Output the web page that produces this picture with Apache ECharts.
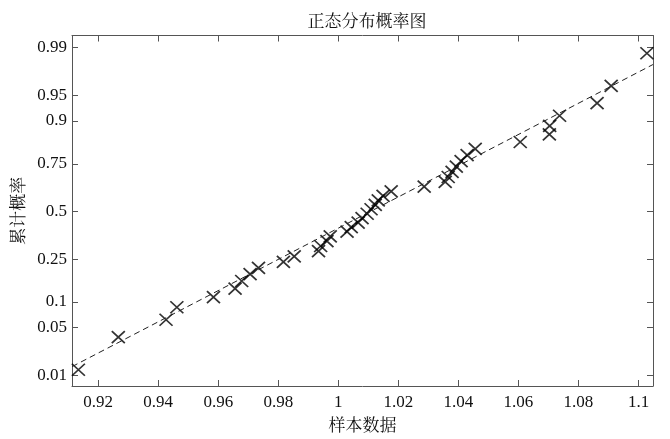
<!DOCTYPE html>
<html>
<head>
<meta charset="utf-8">
<script src="https://cdn.jsdelivr.net/npm/echarts@6/dist/echarts.min.js"></script>
<style>html,body{margin:0;padding:0;background:#fff}#c{width:670px;height:439px}</style>
</head>
<body>
<div id="c"></div>
<script>
const titleText = '正态分布概率图';
const xName = '样本数据';
const yName = '累计概率';
const xTicks = [0.92, 0.94, 0.96, 0.98, 1.00, 1.02, 1.04, 1.06, 1.08, 1.10];
const probTicks = [0.01, 0.05, 0.1, 0.25, 0.5, 0.75, 0.9, 0.95, 0.99];
const sampleX = [0.9134, 0.9267, 0.9426, 0.9462, 0.9584, 0.9656, 0.9678, 0.9706, 0.9734, 0.9817,
                 0.9853, 0.9934, 0.9941, 0.9962, 0.9973, 1.0029, 1.0043, 1.0066, 1.0079, 1.0096,
                 1.0109, 1.0123, 1.0133, 1.0149, 1.0176, 1.0286, 1.0356, 1.0366, 1.0379, 1.0393,
                 1.0409, 1.0429, 1.0456, 1.0606, 1.0703, 1.0704, 1.0737, 1.0862, 1.0909, 1.1028];
const sampleP = [0.0125, 0.0375, 0.0625, 0.0875, 0.1125, 0.1375, 0.1625, 0.1875, 0.2125, 0.2375,
                 0.2625, 0.2875, 0.3125, 0.3375, 0.3625, 0.3875, 0.4125, 0.4375, 0.4625, 0.4875,
                 0.5125, 0.5375, 0.5625, 0.5875, 0.6125, 0.6375, 0.6625, 0.6875, 0.7125, 0.7375,
                 0.7625, 0.7875, 0.8125, 0.8375, 0.8625, 0.8875, 0.9125, 0.9375, 0.9625, 0.9875];
const refLineX = [0.9113, 1.1048];
const refLineP = [0.0140, 0.9813];

// inverse standard normal CDF (probability-axis scale transform)
function probit(p) {
  const a = [-3.969683028665376e+01, 2.209460984245205e+02, -2.759285104469687e+02, 1.383577518672690e+02, -3.066479806614716e+01, 2.506628277459239e+00];
  const b = [-5.447609879822406e+01, 1.615858368580409e+02, -1.556989798598866e+02, 6.680131188771972e+01, -1.328068155288572e+01];
  const c = [-7.784894002430293e-03, -3.223964580411365e-01, -2.400758277161838e+00, -2.549732539343734e+00, 4.374664141464968e+00, 2.938163982698783e+00];
  const d = [7.784695709041462e-03, 3.224671290700398e-01, 2.445134137142996e+00, 3.754408661907416e+00];
  const pl = 0.02425, ph = 1 - pl;
  let q, r;
  if (p < pl) {
    q = Math.sqrt(-2 * Math.log(p));
    return (((((c[0]*q+c[1])*q+c[2])*q+c[3])*q+c[4])*q+c[5]) / ((((d[0]*q+d[1])*q+d[2])*q+d[3])*q+1);
  } else if (p <= ph) {
    q = p - 0.5; r = q * q;
    return (((((a[0]*r+a[1])*r+a[2])*r+a[3])*r+a[4])*r+a[5])*q / (((((b[0]*r+b[1])*r+b[2])*r+b[3])*r+b[4])*r+1);
  } else {
    q = Math.sqrt(-2 * Math.log(1 - p));
    return -(((((c[0]*q+c[1])*q+c[2])*q+c[3])*q+c[4])*q+c[5]) / ((((d[0]*q+d[1])*q+d[2])*q+d[3])*q+1);
  }
}

const zTicks = probTicks.map(probit);
function zToLabel(v) {
  let best = 0;
  for (let i = 1; i < zTicks.length; i++) if (Math.abs(zTicks[i] - v) < Math.abs(zTicks[best] - v)) best = i;
  return String(probTicks[best]);
}
const fmtX = v => String(+(+v).toFixed(2));

const serif = '"Liberation Serif", "Times New Roman", serif';
const cjk = '"Noto Serif CJK SC", "Noto Sans CJK SC", sans-serif';
const axisColor = '#555';
const xMin = 0.91127, xMax = 1.10483, yMin = -2.472, yMax = 2.493;

const lineCommon = { show: true, onZero: false, lineStyle: { color: axisColor, width: 1 } };

const chart = echarts.init(document.getElementById('c'), null, { renderer: 'canvas' });
chart.setOption({
  animation: false,
  backgroundColor: '#fff',
  title: {
    text: titleText, left: 362, top: 7, textAlign: 'center',
    textStyle: { fontFamily: cjk, fontSize: 17, fontWeight: 'normal', color: '#111' }
  },
  grid: { left: 72, right: 17, top: 35.5, bottom: 53, containLabel: false },
  xAxis: [
    {
      type: 'value', position: 'bottom', min: xMin, max: xMax,
      axisLine: lineCommon, splitLine: { show: false },
      name: xName, nameLocation: 'middle', nameGap: 27,
      nameTextStyle: { fontFamily: cjk, fontSize: 17, color: '#111' },
      axisTick: { show: true, inside: true, length: 6, customValues: xTicks, lineStyle: { color: axisColor } },
      axisLabel: { show: true, customValues: xTicks, formatter: fmtX, margin: 8,
                   fontFamily: serif, fontSize: 17, color: '#111' }
    },
    {
      type: 'value', position: 'top', min: xMin, max: xMax,
      axisLine: lineCommon, splitLine: { show: false },
      axisTick: { show: true, inside: true, length: 6, customValues: xTicks, lineStyle: { color: axisColor } },
      axisLabel: { show: false }
    }
  ],
  yAxis: [
    {
      type: 'value', position: 'left', min: yMin, max: yMax,
      axisLine: lineCommon, splitLine: { show: false },
      name: yName, nameLocation: 'middle', nameGap: 40,
      nameTextStyle: { fontFamily: cjk, fontSize: 17, color: '#111' },
      axisTick: { show: true, inside: true, length: 6, customValues: zTicks, lineStyle: { color: axisColor } },
      axisLabel: { show: true, customValues: zTicks, formatter: zToLabel, margin: 5,
                   fontFamily: serif, fontSize: 17, color: '#111' }
    },
    {
      type: 'value', position: 'right', min: yMin, max: yMax,
      axisLine: lineCommon, splitLine: { show: false },
      axisTick: { show: true, inside: true, length: 6, customValues: zTicks, lineStyle: { color: axisColor } },
      axisLabel: { show: false }
    }
  ],
  series: [
    {
      type: 'line', xAxisIndex: 0, yAxisIndex: 0,
      data: refLineX.map((x, i) => [x, probit(refLineP[i])]),
      symbol: 'none', silent: true,
      lineStyle: { color: '#222', width: 1, type: [6, 4] }
    },
    {
      type: 'scatter', xAxisIndex: 0, yAxisIndex: 0,
      data: sampleX.map((x, i) => [x, probit(sampleP[i])]),
      symbol: 'path://M0,0L10,10M10,0L0,10', symbolSize: [13, 12],
      itemStyle: { color: 'rgba(0,0,0,0)', borderColor: '#000', borderWidth: 1.7 }
    }
  ]
});
</script>
</body>
</html>
